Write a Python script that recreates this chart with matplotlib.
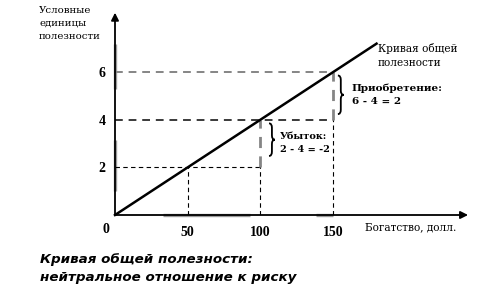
import matplotlib
matplotlib.use("Agg")
import matplotlib.pyplot as plt
from matplotlib.path import Path
from matplotlib.patches import PathPatch

# data
wealth_ticks = [50, 100, 150]
utility_ticks = [2, 4, 6]
curve_x = [0, 180]
curve_y = [0, 7.2]
gain_label = ["Приобретение:", "6 - 4 = 2"]
loss_label = ["Убыток:", "2 - 4 = -2"]

W, H = 498, 304
fig = plt.figure(figsize=(W / 100, H / 100), dpi=100)

# axes placed so that the origin sits at pixel (115, 215)
x0, y0 = 115, 215
xmax, ymax = 243, 8.5
kx, ky = 1.453, 23.8
ax = fig.add_axes([x0 / W, 1 - y0 / H, xmax * kx / W, ymax * ky / H])
ax.set_xlim(0, xmax)
ax.set_ylim(0, ymax)
for s in ax.spines.values():
    s.set_visible(False)
ax.set_xticks(wealth_ticks)
ax.set_yticks(utility_ticks)
ax.tick_params(length=0, pad=8)
for lab in ax.get_xticklabels() + ax.get_yticklabels():
    lab.set_family("Liberation Serif")
    lab.set_fontweight("bold")
    lab.set_fontsize(10)
ax.tick_params(axis="y", pad=7)

# arrowed axes
arr = dict(arrowstyle="-|>", color="black", lw=1.3, mutation_scale=11,
           shrinkA=0, shrinkB=0)
ax.annotate("", xy=(xmax, 0), xytext=(0, 0), arrowprops=arr, annotation_clip=False)
ax.annotate("", xy=(0, ymax), xytext=(0, 0), arrowprops=arr, annotation_clip=False)

# gray segments on the axes (scan artefacts in the original)
gray_seg = dict(color="#9a9a9a", lw=2.4, solid_capstyle="butt", clip_on=False)
ax.plot([0, 0], [5.3, 7.2], **gray_seg)
ax.plot([0, 0], [1.0, 3.15], **gray_seg)
ax.plot([33, 93], [0, 0], **gray_seg)
ax.plot([138, 150], [0, 0], **gray_seg)

# guide lines
g, b = "#858585", "black"
dash = (0, (4, 3))
ax.plot([0, wealth_ticks[2]], [utility_ticks[2]] * 2, ls=dash, color=g, lw=1.4)
ax.plot([0, wealth_ticks[2]], [utility_ticks[1]] * 2, ls=dash, color="#3a3a3a", lw=1.4)
ax.plot([0, wealth_ticks[1]], [utility_ticks[0]] * 2, ls=dash, color=b, lw=0.8)
ax.plot([wealth_ticks[2]] * 2, [utility_ticks[1], utility_ticks[2]], ls=dash, color=g, lw=2.0)
ax.plot([wealth_ticks[2]] * 2, [0, utility_ticks[1]], ls=dash, color=b, lw=0.8)
ax.plot([wealth_ticks[1]] * 2, [utility_ticks[0], utility_ticks[1]], ls=dash, color=g, lw=2.0)
ax.plot([wealth_ticks[1]] * 2, [0, utility_ticks[0]], ls=dash, color=b, lw=0.8)
ax.plot([wealth_ticks[0]] * 2, [0, utility_ticks[0]], ls=dash, color=b, lw=0.8)

# total utility curve
ax.plot(curve_x, curve_y, color="black", lw=1.8, clip_on=False)


def brace(ax, x, ytop, ybot, w=4.0, d=0.18):
    ym = (ytop + ybot) / 2
    xm = x + w / 2
    verts = [(x, ytop), (xm, ytop), (xm, ytop - d),
             (xm, ym + d), (xm, ym), (x + w, ym),
             (xm, ym), (xm, ym - d),
             (xm, ybot + d), (xm, ybot), (x, ybot)]
    codes = [Path.MOVETO, Path.CURVE3, Path.CURVE3,
             Path.LINETO, Path.CURVE3, Path.CURVE3,
             Path.CURVE3, Path.CURVE3,
             Path.LINETO, Path.CURVE3, Path.CURVE3]
    ax.add_patch(PathPatch(Path(verts, codes), fill=False, lw=1.3, color="black"))


serif = "DejaVu Serif"
ax.text(curve_x[1] + 1, 7.0, "Кривая общей", family=serif, fontsize=7.6, va="center")
ax.text(curve_x[1] + 1, 6.4, "полезности", family=serif, fontsize=7.6, va="center")

# braces and labels
brace(ax, 153.4, 5.86, 4.24)
ax.text(163, 5.34, gain_label[0], family=serif, fontsize=7.5, va="center", fontweight="bold")
ax.text(163, 4.76, gain_label[1], family=serif, fontsize=7.5, va="center", fontweight="bold")
brace(ax, 106, 3.85, 2.48)
ax.text(113.5, 3.3, loss_label[0], family=serif, fontsize=7.0, va="center", fontweight="bold")
ax.text(113.5, 2.74, loss_label[1], family=serif, fontsize=7.0, va="center", fontweight="bold")

ax.text(-4, -0.6, "0", family="Liberation Serif", fontsize=10, fontweight="bold",
        ha="right", va="center")
ax.text(172, -0.5, "Богатство, долл.", family=serif, fontsize=7.6, va="center")

fig.text(39 / W, 1 - 6 / H, "Условные\nединицы\nполезности", family=serif,
         fontsize=7.4, va="top", ha="left", linespacing=1.55)

fig.text(40 / W, 1 - 259 / H, "Кривая общей полезности:", family="DejaVu Sans",
         fontsize=9.7, fontweight="bold", style="italic", va="center")
fig.text(40 / W, 1 - 277 / H, "нейтральное отношение к риску", family="DejaVu Sans",
         fontsize=9.7, fontweight="bold", style="italic", va="center")

fig.savefig("out.png", dpi=100)
